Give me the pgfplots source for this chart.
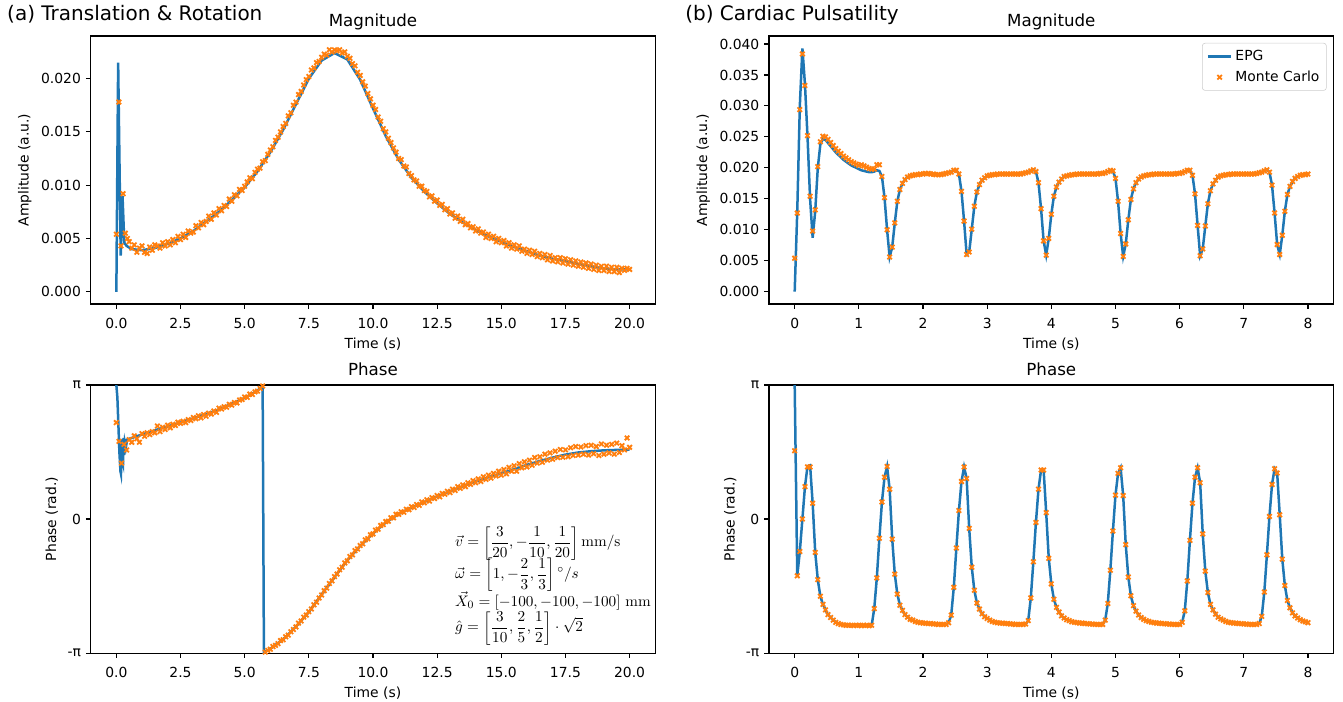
\documentclass[border=0pt]{standalone}
\usepackage[no-math]{fontspec}
\setmainfont{DejaVu Sans}
\usepackage{pgfplots}
\pgfplotsset{compat=1.18}
\usepackage{pgfplotstable}
\definecolor{c0}{HTML}{1F77B4}
\definecolor{c1}{HTML}{FF7F0E}

\pgfplotsset{
  mpl/.style={
    scale only axis, width=406.5pt, height=193pt,
    tick align=outside, tick pos=left,
    major tick length=3.5pt,
    tick style={black, line width=0.8pt},
    axis line style={line width=0.8pt},
    tick label style={font=\fontsize{10}{12}\selectfont},
    xticklabel style={yshift=-3pt},
    label style={font=\fontsize{10}{12}\selectfont},
    title style={font=\fontsize{12}{14}\selectfont, at={(0.5,1)}, anchor=base, yshift=1pt, inner sep=0pt},
    /pgf/number format/assume math mode=true,
    scaled ticks=false,
    xlabel={Time (s)},
  },
  epg/.style={c0, line width=1.8pt},
  mc/.style={only marks, mark=x, c1, mark size=2.3pt, mark options={line width=1.3pt}},
}

\begin{document}

% (a) magnitude, EPG
\pgfplotstableread{
t m
0 0
0.07 0.0215
0.17 0.0034
0.24 0.0090
0.31 0.0046
0.4 0.0043
0.6 0.0040
1.0 0.0039
1.5 0.0041
2.0 0.0045
2.5 0.0050
3.0 0.0057
3.5 0.0066
4.0 0.0075
4.5 0.0086
5.0 0.0098
5.5 0.0113
6.0 0.0131
6.5 0.0152
7.0 0.0176
7.5 0.0200
8.0 0.0217
8.5 0.0224
9.0 0.0218
9.5 0.0199
10.0 0.0172
10.5 0.0146
11.0 0.0124
11.5 0.0107
12.0 0.0094
12.5 0.0083
13.0 0.0073
13.5 0.0065
14.0 0.0058
14.5 0.0052
15.0 0.0047
15.5 0.0042
16.0 0.0038
16.5 0.0034
17.0 0.0031
17.5 0.0029
18.0 0.0026
18.5 0.0024
19.0 0.0022
19.5 0.0021
20.0 0.0021
}\amagepg

% (a) magnitude, Monte Carlo
\pgfplotstableread{
t m
0 0.0054
0.1 0.0178
0.18 0.0043
0.26 0.0092
0.35 0.0055
0.43 0.0050
0.5 0.0047
0.6 0.0041
0.7 0.0044
0.8 0.0037
0.9 0.0041
1.0 0.0043
1.1 0.0037
1.2 0.0036
1.3 0.0042
1.4 0.0039
1.5 0.0044
1.6 0.0043
1.7 0.0041
1.8 0.0046
1.9 0.0043
2.0 0.0047
2.1 0.0044
2.2 0.0049
2.3 0.0046
2.4 0.0052
2.5 0.0049
2.6 0.0054
2.7 0.0051
2.8 0.0057
2.9 0.0055
3.0 0.0056
3.1 0.0062
3.2 0.0060
3.3 0.0065
3.4 0.0063
3.5 0.0066
3.6 0.0071
3.7 0.0068
3.8 0.0074
3.9 0.0072
4.0 0.0078
4.1 0.0076
4.2 0.0081
4.3 0.0080
4.4 0.0087
4.5 0.0085
4.6 0.0091
4.7 0.0090
4.8 0.0096
4.9 0.0095
5.0 0.0099
5.1 0.0103
5.2 0.0107
5.3 0.0106
5.4 0.0112
5.5 0.0115
5.6 0.0116
5.7 0.0122
5.8 0.0123
5.9 0.0129
6.0 0.0133
6.1 0.0136
6.2 0.0142
6.3 0.0145
6.4 0.0150
6.5 0.0155
6.6 0.0158
6.7 0.0165
6.8 0.0168
6.9 0.0175
7.0 0.0178
7.1 0.0185
7.2 0.0188
7.3 0.0194
7.4 0.0199
7.5 0.0202
7.6 0.0208
7.7 0.0210
7.8 0.0215
7.9 0.0216
8.0 0.0220
8.1 0.0223
8.2 0.0222
8.3 0.0227
8.4 0.0225
8.5 0.0227
8.6 0.0226
8.7 0.0227
8.8 0.0224
8.9 0.0225
9.0 0.0221
9.1 0.0219
9.2 0.0214
9.3 0.0212
9.4 0.0206
9.5 0.0203
9.6 0.0197
9.7 0.0193
9.8 0.0186
9.9 0.0181
10.0 0.0175
10.1 0.0171
10.2 0.0164
10.3 0.0160
10.4 0.0153
10.5 0.0150
10.6 0.0144
10.7 0.0140
10.8 0.0135
10.9 0.0131
11.0 0.0125
11.1 0.0124
11.2 0.0118
11.3 0.0117
11.4 0.0111
11.5 0.0109
11.6 0.0105
11.7 0.0104
11.8 0.0099
11.9 0.0099
12.0 0.0095
12.1 0.0094
12.2 0.0089
12.3 0.0090
12.4 0.0085
12.5 0.0086
12.6 0.0081
12.7 0.0082
12.8 0.0077
12.9 0.0078
13.0 0.0073
13.1 0.0074
13.2 0.0069
13.3 0.0071
13.4 0.0066
13.5 0.0068
13.6 0.0063
13.7 0.0064
13.8 0.0060
13.9 0.0061
14.0 0.0057
14.1 0.0059
14.2 0.0055
14.3 0.0056
14.4 0.0051
14.5 0.0054
14.6 0.0050
14.7 0.0052
14.8 0.0047
14.9 0.0050
15.0 0.0046
15.1 0.0048
15.2 0.0043
15.3 0.0046
15.4 0.0041
15.5 0.0044
15.6 0.0040
15.7 0.0043
15.8 0.0038
15.9 0.0040
16.0 0.0036
16.1 0.0039
16.2 0.0035
16.3 0.0038
16.4 0.0033
16.5 0.0036
16.6 0.0032
16.7 0.0035
16.8 0.0030
16.9 0.0034
17.0 0.0029
17.1 0.0032
17.2 0.0028
17.3 0.0032
17.4 0.0027
17.5 0.0031
17.6 0.0026
17.7 0.0030
17.8 0.0025
17.9 0.0029
18.0 0.0024
18.1 0.0028
18.2 0.0023
18.3 0.0027
18.4 0.0022
18.5 0.0026
18.6 0.0021
18.7 0.0025
18.8 0.0020
18.9 0.0024
19.0 0.0020
19.1 0.0024
19.2 0.0019
19.3 0.0023
19.4 0.0019
19.5 0.0023
19.6 0.0018
19.7 0.0022
19.8 0.0020
19.9 0.0022
20.0 0.0021
}\amagmc

% (a) phase, EPG
\pgfplotstableread{
t p
0 3.14
0.04 2.85
0.08 2.20
0.12 1.55
0.16 1.12
0.18 1.06
0.20 1.45
0.22 1.88
0.24 1.35
0.26 1.30
0.28 1.90
0.30 1.50
0.33 1.80
0.37 1.68
0.42 1.86
0.5 1.88
1.0 1.98
1.5 2.08
2.0 2.17
2.5 2.26
3.0 2.36
3.5 2.46
4.0 2.57
4.5 2.70
5.0 2.84
5.3 2.94
5.5 3.01
5.70 3.12
5.75 -3.13
6.0 -3.04
6.5 -2.82
7.0 -2.52
7.5 -2.18
8.0 -1.77
8.5 -1.36
9.0 -0.97
9.5 -0.63
10.0 -0.34
10.5 -0.08
11.0 0.12
11.5 0.27
12.0 0.40
12.5 0.53
13.0 0.65
13.5 0.77
14.0 0.88
14.5 0.98
15.0 1.07
15.5 1.17
16.0 1.27
16.5 1.36
17.0 1.44
17.5 1.51
18.0 1.56
18.5 1.59
19.0 1.61
19.5 1.62
20.0 1.63
}\aphaepg

% (a) phase, Monte Carlo
\pgfplotstableread{
t p
0 2.26
0.1 1.82
0.2 1.31
0.3 1.75
0.4 1.62
0.5 1.86
0.6 1.80
0.7 1.95
0.8 1.88
0.9 1.80
1.0 2.00
1.1 1.94
1.2 2.02
1.3 1.98
1.4 2.05
1.5 2.02
1.6 2.18
1.7 2.05
1.8 2.15
1.9 2.10
2.0 2.20
2.1 2.14
2.2 2.22
2.3 2.19
2.4 2.27
2.5 2.24
2.6 2.29
2.7 2.26
2.8 2.33
2.9 2.31
3.0 2.38
3.1 2.35
3.2 2.42
3.3 2.37
3.4 2.45
3.5 2.41
3.6 2.48
3.7 2.46
3.8 2.53
3.9 2.50
4.0 2.60
4.1 2.58
4.2 2.63
4.3 2.62
4.4 2.69
4.5 2.67
4.6 2.73
4.7 2.72
4.8 2.79
4.9 2.80
5.0 2.86
5.1 2.85
5.2 2.93
5.3 2.92
5.4 2.98
5.5 3.00
5.6 3.06
5.7 3.12
5.8 -3.12
5.9 -3.08
6.0 -3.05
6.1 -2.99
6.2 -2.96
6.3 -2.92
6.4 -2.85
6.5 -2.83
6.6 -2.76
6.7 -2.72
6.8 -2.64
6.9 -2.59
7.0 -2.53
7.1 -2.44
7.2 -2.39
7.3 -2.30
7.4 -2.25
7.5 -2.17
7.6 -2.11
7.7 -2.01
7.8 -1.95
7.9 -1.85
8.0 -1.78
8.1 -1.68
8.2 -1.62
8.3 -1.51
8.4 -1.45
8.5 -1.35
8.6 -1.29
8.7 -1.19
8.8 -1.13
8.9 -1.03
9.0 -0.98
9.1 -0.88
9.2 -0.84
9.3 -0.74
9.4 -0.70
9.5 -0.62
9.6 -0.58
9.7 -0.49
9.8 -0.46
9.9 -0.37
10.0 -0.35
10.1 -0.26
10.2 -0.24
10.3 -0.15
10.4 -0.13
10.5 -0.06
10.6 -0.05
10.7 0.03
10.8 0.03
10.9 0.11
11.0 0.11
11.1 0.17
11.2 0.16
11.3 0.23
11.4 0.22
11.5 0.29
11.6 0.27
11.7 0.34
11.8 0.32
11.9 0.40
12.0 0.38
12.1 0.45
12.2 0.42
12.3 0.50
12.4 0.48
12.5 0.55
12.6 0.52
12.7 0.60
12.8 0.58
12.9 0.65
13.0 0.62
13.1 0.70
13.2 0.67
13.3 0.76
13.4 0.72
13.5 0.80
13.6 0.76
13.7 0.85
13.8 0.81
13.9 0.90
14.0 0.85
14.1 0.94
14.2 0.88
14.3 0.99
14.4 0.93
14.5 1.03
14.6 0.96
14.7 1.07
14.8 1.01
14.9 1.12
15.0 1.03
15.1 1.16
15.2 1.06
15.3 1.21
15.4 1.12
15.5 1.25
15.6 1.12
15.7 1.30
15.8 1.20
15.9 1.34
16.0 1.22
16.1 1.38
16.2 1.26
16.3 1.44
16.4 1.31
16.5 1.46
16.6 1.33
16.7 1.52
16.8 1.38
16.9 1.55
17.0 1.40
17.1 1.59
17.2 1.44
17.3 1.63
17.4 1.45
17.5 1.62
17.6 1.46
17.7 1.67
17.8 1.49
17.9 1.70
18.0 1.50
18.1 1.69
18.2 1.52
18.3 1.72
18.4 1.50
18.5 1.73
18.6 1.53
18.7 1.70
18.8 1.49
18.9 1.76
19.0 1.52
19.1 1.73
19.2 1.55
19.3 1.75
19.4 1.52
19.5 1.78
19.6 1.56
19.7 1.72
19.8 1.62
19.9 1.90
20.0 1.68
}\aphamc

% (b) EPG magnitude and phase
\pgfplotstableread{
t m p
0.00 0.0000 3.1416
0.04 0.0130 -1.33
0.08 0.0300 -0.76
0.12 0.0393 0.00
0.16 0.0335 0.76
0.20 0.0250 1.24
0.24 0.0150 1.26
0.28 0.0087 0.37
0.32 0.0130 -0.78
0.36 0.0200 -1.42
0.40 0.0238 -1.81
0.44 0.0247 -2.00
0.48 0.0245 -2.13
0.52 0.0240 -2.24
0.56 0.0235 -2.31
0.60 0.0230 -2.37
0.64 0.0225 -2.42
0.68 0.0221 -2.45
0.72 0.0217 -2.47
0.76 0.0213 -2.48
0.80 0.0210 -2.49
0.84 0.0207 -2.49
0.88 0.0204 -2.49
0.92 0.0202 -2.49
0.96 0.0200 -2.49
1.00 0.0198 -2.49
1.04 0.0196 -2.49
1.08 0.0195 -2.49
1.12 0.0194 -2.49
1.16 0.0193 -2.49
1.20 0.0193 -2.49
1.24 0.0194 -2.10
1.28 0.0196 -1.38
1.32 0.0195 -0.45
1.36 0.0186 0.40
1.40 0.0152 0.98
1.44 0.0100 1.23
1.48 0.0056 0.70
1.52 0.0072 -0.47
1.56 0.0111 -1.29
1.60 0.0146 -1.76
1.64 0.0165 -2.02
1.68 0.0175 -2.14
1.72 0.0181 -2.24
1.76 0.0185 -2.30
1.80 0.0187 -2.35
1.84 0.0188 -2.37
1.88 0.0189 -2.40
1.92 0.0189 -2.42
1.96 0.0190 -2.43
2.00 0.0190 -2.44
2.04 0.0191 -2.44
2.08 0.0191 -2.45
2.12 0.0190 -2.45
2.16 0.0190 -2.46
2.20 0.0189 -2.46
2.24 0.0189 -2.47
2.28 0.0189 -2.47
2.32 0.0190 -2.47
2.36 0.0191 -2.47
2.40 0.0192 -2.43
2.44 0.0193 -2.25
2.48 0.0196 -1.60
2.52 0.0196 -0.68
2.56 0.0190 0.20
2.60 0.0162 0.88
2.64 0.0114 1.22
2.68 0.0060 0.95
2.72 0.0064 -0.22
2.76 0.0101 -1.13
2.80 0.0138 -1.67
2.84 0.0161 -1.97
2.88 0.0173 -2.11
2.92 0.0180 -2.22
2.96 0.0184 -2.29
3.00 0.0187 -2.33
3.04 0.0188 -2.37
3.08 0.0189 -2.40
3.12 0.0189 -2.42
3.16 0.0190 -2.43
3.20 0.0190 -2.44
3.24 0.0190 -2.44
3.28 0.0190 -2.45
3.32 0.0190 -2.45
3.36 0.0190 -2.46
3.40 0.0190 -2.46
3.44 0.0190 -2.47
3.48 0.0190 -2.47
3.52 0.0190 -2.47
3.56 0.0191 -2.47
3.60 0.0192 -2.46
3.64 0.0193 -2.38
3.68 0.0195 -1.85
3.72 0.0197 -1.00
3.76 0.0194 -0.08
3.80 0.0176 0.70
3.84 0.0134 1.15
3.88 0.0082 1.15
3.92 0.0059 0.15
3.96 0.0086 -0.92
4.00 0.0125 -1.52
4.04 0.0154 -1.88
4.08 0.0169 -2.07
4.12 0.0177 -2.18
4.16 0.0182 -2.27
4.20 0.0186 -2.32
4.24 0.0187 -2.36
4.28 0.0188 -2.38
4.32 0.0189 -2.41
4.36 0.0189 -2.42
4.40 0.0190 -2.43
4.44 0.0190 -2.44
4.48 0.0190 -2.44
4.52 0.0190 -2.45
4.56 0.0190 -2.45
4.60 0.0190 -2.46
4.64 0.0190 -2.46
4.68 0.0190 -2.47
4.72 0.0190 -2.47
4.76 0.0191 -2.47
4.80 0.0191 -2.47
4.84 0.0192 -2.37
4.88 0.0194 -1.98
4.92 0.0196 -1.20
4.96 0.0195 -0.28
5.00 0.0183 0.56
5.04 0.0146 1.07
5.08 0.0094 1.20
5.12 0.0057 0.55
5.16 0.0077 -0.60
5.20 0.0116 -1.36
5.24 0.0149 -1.80
5.28 0.0166 -2.03
5.32 0.0176 -2.16
5.36 0.0182 -2.25
5.40 0.0185 -2.31
5.44 0.0187 -2.35
5.48 0.0188 -2.38
5.52 0.0189 -2.40
5.56 0.0189 -2.42
5.60 0.0190 -2.43
5.64 0.0190 -2.44
5.68 0.0190 -2.44
5.72 0.0190 -2.45
5.76 0.0190 -2.45
5.80 0.0190 -2.46
5.84 0.0190 -2.46
5.88 0.0190 -2.47
5.92 0.0190 -2.47
5.96 0.0191 -2.47
6.00 0.0191 -2.47
6.04 0.0192 -2.42
6.08 0.0194 -2.15
6.12 0.0196 -1.45
6.16 0.0196 -0.50
6.20 0.0188 0.37
6.24 0.0158 0.98
6.28 0.0107 1.20
6.32 0.0058 0.85
6.36 0.0069 -0.35
6.40 0.0106 -1.22
6.44 0.0142 -1.72
6.48 0.0163 -2.00
6.52 0.0174 -2.13
6.56 0.0180 -2.23
6.60 0.0185 -2.30
6.64 0.0187 -2.34
6.68 0.0188 -2.37
6.72 0.0189 -2.40
6.76 0.0189 -2.42
6.80 0.0190 -2.43
6.84 0.0190 -2.44
6.88 0.0190 -2.44
6.92 0.0190 -2.45
6.96 0.0190 -2.45
7.00 0.0190 -2.46
7.04 0.0190 -2.46
7.08 0.0190 -2.47
7.12 0.0190 -2.47
7.16 0.0190 -2.47
7.20 0.0191 -2.47
7.24 0.0192 -2.45
7.28 0.0193 -2.28
7.32 0.0195 -1.71
7.36 0.0197 -0.84
7.40 0.0193 0.06
7.44 0.0172 0.81
7.48 0.0127 1.18
7.52 0.0076 1.08
7.56 0.0060 0.10
7.60 0.0091 -0.94
7.64 0.0130 -1.56
7.68 0.0157 -1.91
7.72 0.0170 -2.08
7.76 0.0178 -2.20
7.80 0.0183 -2.27
7.84 0.0186 -2.32
7.88 0.0188 -2.36
7.92 0.0189 -2.39
7.96 0.0189 -2.41
8.00 0.0190 -2.43
}\bepg

% (b) Monte Carlo where it departs from EPG (first beat)
\pgfplotstableread{
t m p
0.00 0.0054 1.60
0.04 0.0127 -1.33
0.08 0.0294 -0.76
0.12 0.0384 0.00
0.16 0.0333 0.76
0.20 0.0252 1.22
0.24 0.0154 1.22
0.28 0.0098 0.37
0.32 0.0132 -0.78
0.36 0.0202 -1.42
0.40 0.0242 -1.81
0.44 0.0251 -2.00
0.48 0.0250 -2.13
0.52 0.0246 -2.24
0.56 0.0241 -2.31
0.60 0.0236 -2.37
0.64 0.0231 -2.42
0.68 0.0227 -2.45
0.72 0.0223 -2.47
0.76 0.0219 -2.48
0.80 0.0216 -2.49
0.84 0.0213 -2.49
0.88 0.0210 -2.49
0.92 0.0208 -2.50
0.96 0.0206 -2.49
1.00 0.0204 -2.49
1.04 0.0205 -2.50
1.08 0.0203 -2.49
1.12 0.0201 -2.49
1.16 0.0199 -2.50
1.20 0.0198 -2.49
1.24 0.0198 -2.10
1.28 0.0205 -1.38
1.32 0.0205 -0.45
}\bmcearly

\begin{tikzpicture}
\useasboundingbox (0,0) rectangle (966.96pt,-505.44pt);

\node[anchor=base west, inner sep=0pt, font=\fontsize{14.4}{17}\selectfont] at (5pt,-15.1pt) {(a) Translation \& Rotation};
\node[anchor=base west, inner sep=0pt, font=\fontsize{14.4}{17}\selectfont] at (493.2pt,-15.1pt) {(b) Cardiac Pulsatility};

% top left
\begin{axis}[mpl, at={(65.3pt,-25.9pt)}, anchor=north west,
  title={Magnitude}, ylabel={Amplitude (a.u.)},
  xmin=-1, xmax=21, ymin=-0.00115, ymax=0.0240,
  xtick={0,2.5,5,7.5,10,12.5,15,17.5,20},
  ytick={0,0.005,0.01,0.015,0.02},
  xticklabel style={/pgf/number format/.cd, fixed, fixed zerofill, precision=1},
  yticklabel style={/pgf/number format/.cd, fixed, fixed zerofill, precision=3}]
\addplot[epg] table[x=t, y=m] {\amagepg};
\addplot[mc] table[x=t, y=m] {\amagmc};
\end{axis}

% top right
\begin{axis}[mpl, at={(553.7pt,-25.9pt)}, anchor=north west,
  title={Magnitude}, ylabel={Amplitude (a.u.)},
  xmin=-0.4, xmax=8.4, ymin=-0.002, ymax=0.0413,
  xtick={0,1,2,3,4,5,6,7,8},
  ytick={0,0.005,0.01,0.015,0.02,0.025,0.03,0.035,0.04},
  yticklabel style={/pgf/number format/.cd, fixed, fixed zerofill, precision=3},
  legend style={at={(1,1)}, anchor=north east, xshift=-5pt, yshift=-5pt,
    draw=black!20, rounded corners=2pt, font=\fontsize{10}{12}\selectfont,
    inner sep=3pt, row sep=2pt},
  legend cell align=left]
\addplot[epg] table[x=t, y=m] {\bepg};
\addlegendentry{EPG}
\addplot[mc] table[x=t, y=m] {\bmcearly};
\addlegendentry{Monte Carlo}
\addplot[mc, restrict x to domain=1.35:9, forget plot] table[x=t, y=m] {\bepg};
\end{axis}

% bottom left
\begin{axis}[mpl, at={(65.3pt,-277.2pt)}, anchor=north west,
  title={Phase}, ylabel={Phase (rad.)},
  xmin=-1, xmax=21, ymin=-3.14159, ymax=3.14159,
  xtick={0,2.5,5,7.5,10,12.5,15,17.5,20},
  ytick={-3.14159,0,3.14159}, yticklabels={-π,0,π},
  xticklabel style={/pgf/number format/.cd, fixed, fixed zerofill, precision=1}]
\addplot[epg] table[x=t, y=p] {\aphaepg};
\addplot[mc] table[x=t, y=p] {\aphamc};
\node[anchor=west, inner sep=0pt, font=\fontsize{11}{13}\selectfont] at (rel axis cs:0.645,0.410)
  {$\displaystyle \vec{v} = \left[\frac{3}{20}, -\frac{1}{10}, \frac{1}{20}\right]\mathrm{mm/s}$};
\node[anchor=west, inner sep=0pt, font=\fontsize{11}{13}\selectfont] at (rel axis cs:0.645,0.291)
  {$\displaystyle \vec{\omega} = \left[1, -\frac{2}{3}, \frac{1}{3}\right]{}^\circ/s$};
\node[anchor=west, inner sep=0pt, font=\fontsize{11}{13}\selectfont] at (rel axis cs:0.645,0.194)
  {$\vec{X}_0 = [-100, -100, -100]\ \mathrm{mm}$};
\node[anchor=west, inner sep=0pt, font=\fontsize{11}{13}\selectfont] at (rel axis cs:0.645,0.093)
  {$\displaystyle \hat{g} = \left[\frac{3}{10}, \frac{2}{5}, \frac{1}{2}\right]\cdot\sqrt{2}$};
\end{axis}

% bottom right
\begin{axis}[mpl, at={(553.7pt,-277.2pt)}, anchor=north west,
  title={Phase}, ylabel={Phase (rad.)},
  xmin=-0.4, xmax=8.4, ymin=-3.14159, ymax=3.14159,
  xtick={0,1,2,3,4,5,6,7,8},
  ytick={-3.14159,0,3.14159}, yticklabels={-π,0,π}]
\addplot[epg] table[x=t, y=p] {\bepg};
\addplot[mc] table[x=t, y=p] {\bmcearly};
\addplot[mc, restrict x to domain=1.35:9] table[x=t, y=p] {\bepg};
\end{axis}
\end{tikzpicture}
\end{document}
